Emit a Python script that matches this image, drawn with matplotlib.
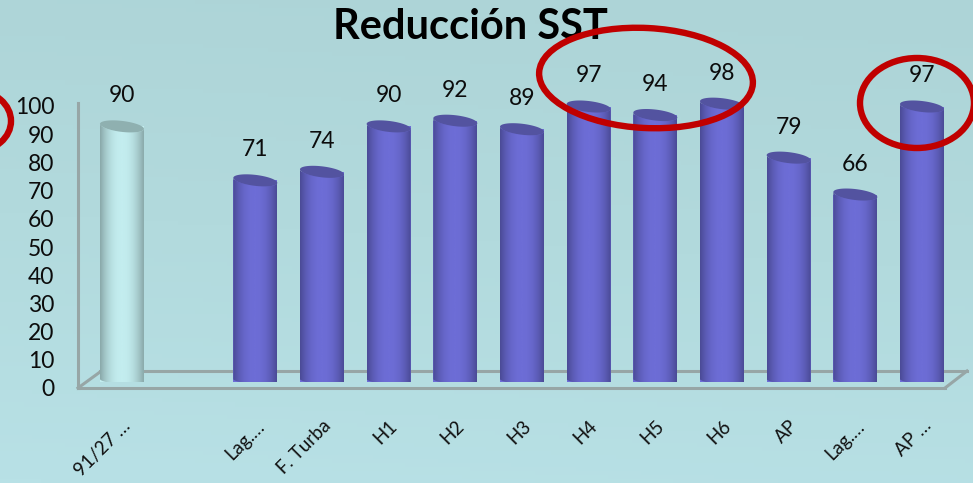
import numpy as np
import matplotlib
matplotlib.use("Agg")
import matplotlib.pyplot as plt
from matplotlib.colors import LinearSegmentedColormap
from matplotlib.lines import Line2D
from matplotlib.patches import Ellipse, PathPatch
from matplotlib.path import Path
from matplotlib.transforms import Affine2D

categories = ["91/27 …", "", "Lag.…", "F. Turba", "H1", "H2", "H3", "H4", "H5", "H6", "AP", "Lag.…", "AP …"]
positions = [0, 2, 3, 4, 5, 6, 7, 8, 9, 10, 11, 12]
values = [90, 71, 74, 90, 92, 89, 97, 94, 98, 79, 66, 97]
bar_labels = ["90", "71", "74", "90", "92", "89", "97", "94", "98", "79", "66", "97"]
y_ticks = [0, 10, 20, 30, 40, 50, 60, 70, 80, 90, 100]
title = "Reducción SST"

W, H = 973, 483
plt.rcParams["font.family"] = ["Lato", "DejaVu Sans"]
fig = plt.figure(figsize=(W / 100, H / 100), dpi=100)

def rect(x0, x1, ytop, ybot):
    return [x0 / W, 1 - ybot / H, (x1 - x0) / W, (ybot - ytop) / H]

# background gradient
bg = fig.add_axes([0, 0, 1, 1], zorder=0)
bgcm = LinearSegmentedColormap.from_list("bg", ["#add4d7", "#b2dadd", "#b8e1e6"])
yy, xx = np.mgrid[0:1:120j, 0:1:120j]
bg.imshow(yy - 0.12 * xx, cmap=bgcm, aspect="auto", extent=(0, W, H, 0))
bg.set_axis_off()

px = Affine2D().scale(1, -1).translate(0, H)
GRAY = "#97a6a6"
for (x0, y0, x1, y1) in [(100, 371, 967, 371), (78, 388, 100, 372), (945, 388, 967, 371)]:
    fig.add_artist(Line2D([x0, x1], [y0, y1], transform=px, color=GRAY, lw=2.2, zorder=1))

# front plane: holds axis lines and tick labels
front = fig.add_axes(rect(78, 945, 106 - 3, 388), zorder=2, facecolor="none")
front.set_ylim(0, 100 * (388 - 103) / (388 - 106))
XL = (-44 / 66.7, 12 + 23 / 66.7)
front.set_xlim(*XL)
for s in ("top", "right"):
    front.spines[s].set_visible(False)
for s in ("left", "bottom"):
    front.spines[s].set_color(GRAY)
    front.spines[s].set_linewidth(2.2)
front.set_yticks(y_ticks)
front.set_yticklabels([str(v) for v in y_ticks], fontsize=16.5, color="#0c0c0c")
front.tick_params(axis="y", length=0, pad=17)
front.set_xticks(range(len(categories)))
front.set_xticklabels(categories, rotation=45, ha="right", rotation_mode="anchor",
                      fontsize=13.5, color="#111111")
front.tick_params(axis="x", length=0, pad=21)

# main plane: bars
ax = fig.add_axes(rect(78, 945, 98, 382), zorder=3, facecolor="none")
ax.set_axis_off()
BW = 44 / 66.7
pu = 100 / 284  # data units per pixel vertically
colors = ["#c3edef"] + ["#6d6dd6"] * 11
edges = ["#8aa9aa"] + ["#4b4b96"] * 11
caps = ["#8fb0b0"] + ["#5353a0"] * 11
ax.bar(positions, values, width=BW, color=colors, linewidth=0, zorder=2)

t = np.linspace(0, np.pi, 60)
for i, (x, v) in enumerate(zip(positions, values)):
    hw = BW / 2
    # outline of the cylinder body: top edge is the lower arc of the cap
    xs_top = x - hw * np.cos(t)
    ys_top = v - 5.5 * pu * np.sin(t) + 2.5 * pu * np.cos(t)
    xs_bot = x + hw * np.cos(t)
    ys_bot = -3.5 * pu * np.sin(t) + 2 * pu * (-np.cos(t)) + 1 * pu
    verts = np.r_[np.c_[xs_top, ys_top], np.c_[xs_bot, ys_bot], [[xs_top[0], ys_top[0]]]]
    body = PathPatch(Path(verts), facecolor="none", edgecolor="none", transform=ax.transData)
    ax.add_patch(body)
    cm = LinearSegmentedColormap.from_list("c", [edges[i], colors[i], colors[i], edges[i]])
    prof = np.abs(np.linspace(-1, 1, 64)) ** 2.2
    grad = 1 - prof
    im = ax.imshow(grad[None, :], cmap=LinearSegmentedColormap.from_list("c", [edges[i], colors[i]]),
                   extent=(x - hw, x + hw, -5, v + 5), aspect="auto", zorder=3, vmin=0, vmax=1,
                   interpolation="bilinear")
    im.set_clip_path(body)
    # cap
    tt = np.linspace(0, 2 * np.pi, 100)
    capv = np.c_[x - hw * np.cos(tt),
                 v + 5.5 * pu * np.sin(tt) + 2.5 * pu * np.cos(tt)]
    ax.add_patch(PathPatch(Path(capv), facecolor=caps[i], edgecolor="none", zorder=4, clip_on=False))
    ax.annotate(bar_labels[i], (x, v), xytext=(0, 22), textcoords="offset points",
                ha="center", va="center", fontsize=16.5, color="#0c0c0c",
                annotation_clip=False, zorder=5)
ax.set_xlim(*XL)
ax.set_ylim(0, 100)

fig.text(470 / W, 1 - 27 / H, title, fontsize=30, fontweight="bold", ha="center", va="center",
         color="black", zorder=4)

# red hand-drawn ellipses
RED = "#c00000"
for (cx, cy, w, h, ang) in [(646, 78, 214, 100, 3), (917, 103, 114, 90, 0), (-24, 121, 70, 60, 0)]:
    fig.add_artist(Ellipse((cx, cy), w, h, angle=ang, transform=px, facecolor="none",
                           edgecolor=RED, lw=4.6, zorder=6))

fig.savefig("out.png", dpi=100)
